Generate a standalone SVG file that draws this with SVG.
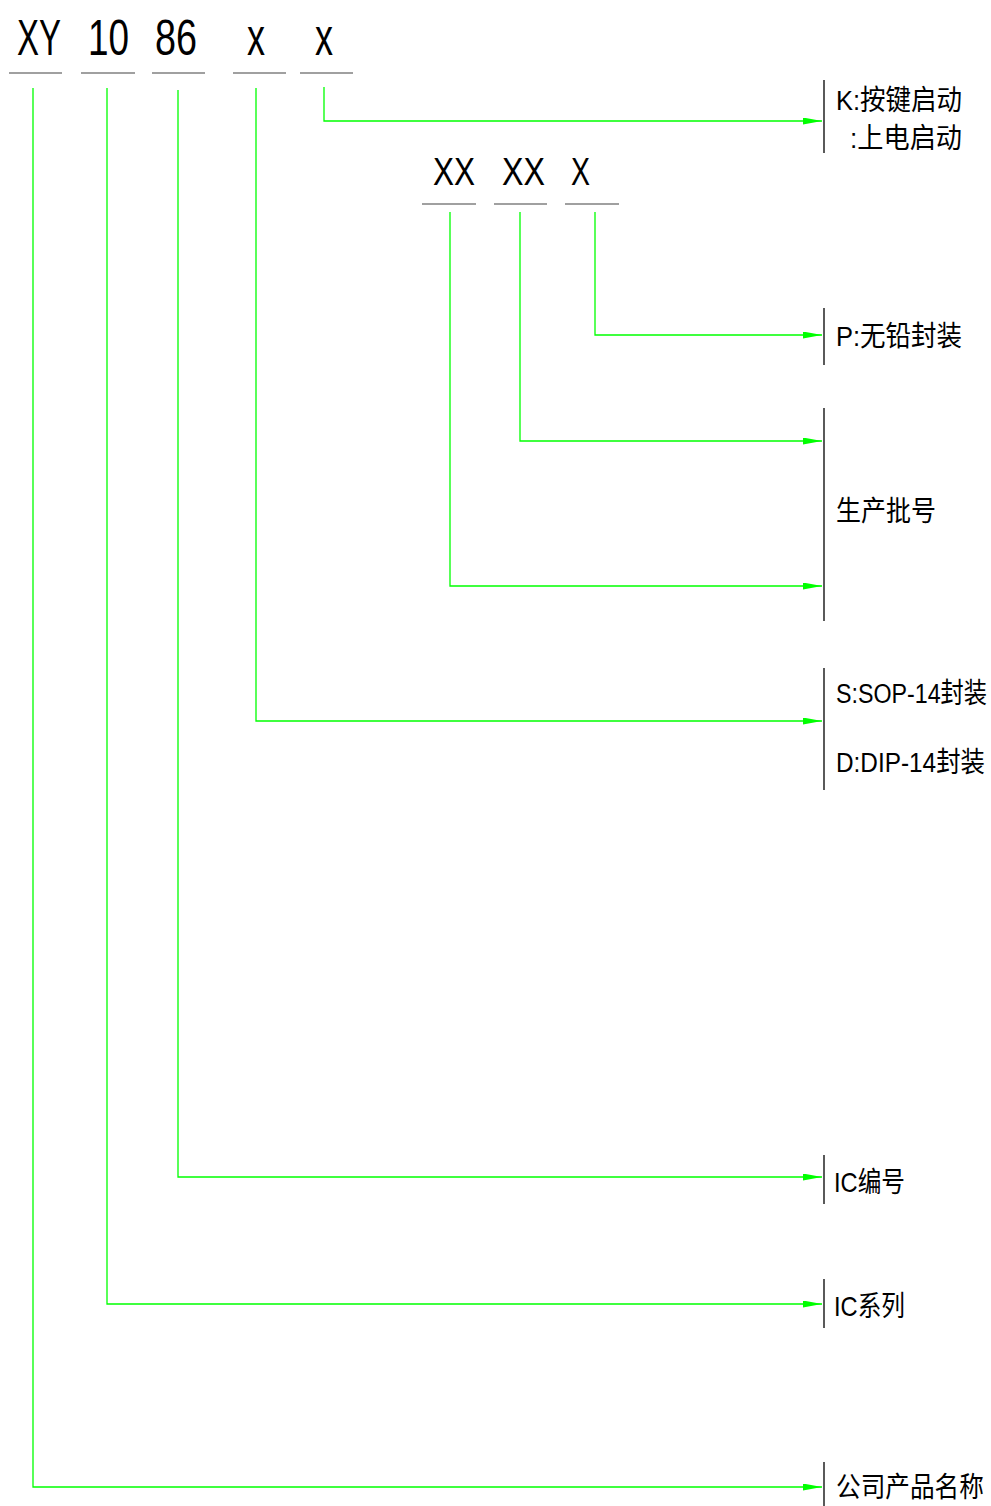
<svg xmlns="http://www.w3.org/2000/svg" width="991" height="1506" viewBox="0 0 991 1506">
<style>
.big{font-family:"Liberation Sans","Noto Sans CJK SC",sans-serif;fill:#000}
.lbl{font-family:"Liberation Sans","Noto Sans CJK SC",sans-serif;font-size:28px;fill:#000}
.ul{stroke:#808080;stroke-width:1.5}
.g{stroke:#00ff00;stroke-width:1.3;fill:none}
.bar{stroke:#000;stroke-width:1.3}
</style>
<defs>
<marker id="ah" markerUnits="userSpaceOnUse" markerWidth="20" markerHeight="8" refX="19" refY="3.5" orient="auto">
<path d="M0,0 L19,3.5 L0,7 Z" fill="#00ff00"/>
</marker>
</defs>
<g id="code-top">
<text class="big" x="17" y="55" font-size="50" textLength="44" lengthAdjust="spacingAndGlyphs">XY</text>
<text class="big" x="88" y="55" font-size="50" textLength="41" lengthAdjust="spacingAndGlyphs">10</text>
<text class="big" x="155" y="55" font-size="50" textLength="42" lengthAdjust="spacingAndGlyphs">86</text>
<text class="big" x="247" y="55" font-size="54" textLength="18" lengthAdjust="spacingAndGlyphs">x</text>
<text class="big" x="315" y="55" font-size="54" textLength="18" lengthAdjust="spacingAndGlyphs">x</text>
<line class="ul" x1="9" y1="73" x2="62" y2="73"/>
<line class="ul" x1="81" y1="73" x2="135" y2="73"/>
<line class="ul" x1="152" y1="73" x2="205" y2="73"/>
<line class="ul" x1="233" y1="73" x2="286" y2="73"/>
<line class="ul" x1="300" y1="73" x2="353" y2="73"/>
</g>
<g id="code-sub">
<text class="big" x="433" y="185" font-size="39" textLength="42" lengthAdjust="spacingAndGlyphs">XX</text>
<text class="big" x="502" y="185" font-size="39" textLength="43" lengthAdjust="spacingAndGlyphs">XX</text>
<text class="big" x="571" y="185" font-size="39" textLength="19" lengthAdjust="spacingAndGlyphs">X</text>
<line class="ul" x1="422" y1="204" x2="476" y2="204"/>
<line class="ul" x1="494" y1="204" x2="547" y2="204"/>
<line class="ul" x1="565" y1="204" x2="619" y2="204"/>
</g>
<g id="connectors">
<path class="g" d="M324,87 V121 H822" marker-end="url(#ah)"/>
<path class="g" d="M595,212 V335 H822" marker-end="url(#ah)"/>
<path class="g" d="M520,212 V441 H822" marker-end="url(#ah)"/>
<path class="g" d="M450,212 V586 H822" marker-end="url(#ah)"/>
<path class="g" d="M256,88 V721 H822" marker-end="url(#ah)"/>
<path class="g" d="M178,90 V1177 H822" marker-end="url(#ah)"/>
<path class="g" d="M107,88 V1304 H822" marker-end="url(#ah)"/>
<path class="g" d="M33,88 V1487 H822" marker-end="url(#ah)"/>
</g>
<g id="node-start">
<line class="bar" x1="824" y1="80" x2="824" y2="153"/>
<text class="lbl" x="836" y="110" textLength="126" lengthAdjust="spacingAndGlyphs">K:按键启动</text>
<text class="lbl" x="850" y="148" textLength="112" lengthAdjust="spacingAndGlyphs">:上电启动</text>
</g>
<g id="node-leadfree">
<line class="bar" x1="824" y1="308" x2="824" y2="365"/>
<text class="lbl" x="836" y="346" textLength="126" lengthAdjust="spacingAndGlyphs">P:无铅封装</text>
</g>
<g id="node-batch">
<line class="bar" x1="824" y1="408" x2="824" y2="621"/>
<text class="lbl" x="836" y="521" textLength="100" lengthAdjust="spacingAndGlyphs">生产批号</text>
</g>
<g id="node-package">
<line class="bar" x1="824" y1="668" x2="824" y2="790"/>
<text class="lbl" transform="translate(836,703) scale(0.83,1)" x="0" y="0">S:SOP-14封装</text>
<text class="lbl" transform="translate(836,772) scale(0.87,1)" x="0" y="0">D:DIP-14封装</text>
</g>
<g id="node-icnum">
<line class="bar" x1="824" y1="1155" x2="824" y2="1204"/>
<text class="lbl" x="834" y="1192" textLength="71" lengthAdjust="spacingAndGlyphs">IC编号</text>
</g>
<g id="node-icseries">
<line class="bar" x1="824" y1="1279" x2="824" y2="1328"/>
<text class="lbl" x="834" y="1316" textLength="71" lengthAdjust="spacingAndGlyphs">IC系列</text>
</g>
<g id="node-company">
<line class="bar" x1="824" y1="1462" x2="824" y2="1506"/>
<text class="lbl" transform="translate(836,1497) scale(0.88,1)" x="0" y="0">公司产品名称</text>
</g>
</svg>
